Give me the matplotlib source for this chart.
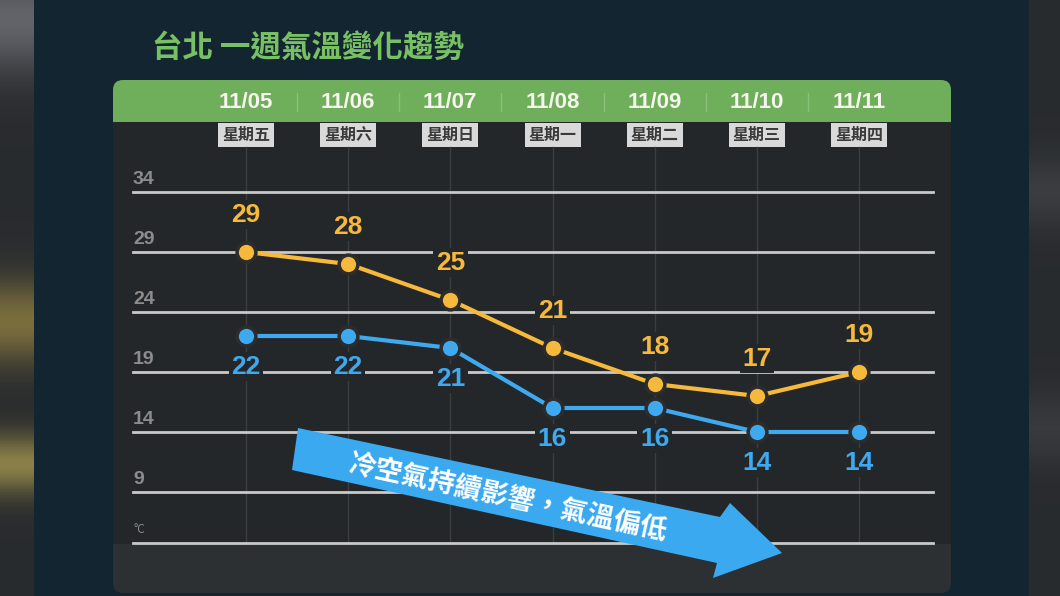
import numpy as np
import matplotlib
matplotlib.use("Agg")
from matplotlib import pyplot as plt
from matplotlib.patches import FancyBboxPatch, Rectangle, Polygon
from matplotlib.transforms import blended_transform_factory

plt.rcParams['font.family'] = ['Noto Sans CJK TC', 'DejaVu Sans']

# data
title = "台北 一週氣溫變化趨勢"
dates = ["11/05", "11/06", "11/07", "11/08", "11/09", "11/10", "11/11"]
weekdays = ["星期五", "星期六", "星期日", "星期一", "星期二", "星期三", "星期四"]
high = [29, 28, 25, 21, 18, 17, 19]
low = [22, 22, 21, 16, 16, 14, 14]
yticks = [34, 29, 24, 19, 14, 9]
note = "冷空氣持續影響，氣溫偏低"

BG = '#142532'
PANEL = '#24272a'
PANEL_LOW = '#2d3033'
GREEN = '#6fae5a'
YELLOW = '#f6b93b'
BLUE = '#3ea9ee'
ARROW = '#3aa9ef'
NUMFONT = ['Liberation Sans', 'DejaVu Sans']

W, H = 1060, 596
fig = plt.figure(figsize=(W / 100, H / 100), dpi=100)
fig.patch.set_facecolor(BG)

# background layer in pixel coordinates
bg = fig.add_axes([0, 0, 1, 1])
bg.axis('off')

# blurred side strips
rows = np.linspace(0, 1, 200)[:, None]
left_col = (np.array([0.16, 0.17, 0.18]) * np.ones((200, 1))
            + np.exp(-((rows - 0.03) / 0.09) ** 2) * np.array([0.22, 0.22, 0.23])
            + np.exp(-((rows - 0.54) / 0.07) ** 2) * np.array([0.32, 0.26, 0.06])
            + np.exp(-((rows - 0.78) / 0.05) ** 2) * np.array([0.38, 0.33, 0.10]))
bg.imshow(np.clip(left_col, 0, 1)[:, None, :], extent=(0, 34, H, 0), aspect='auto', zorder=0)
right_col = (np.array([0.16, 0.17, 0.18]) * np.ones((200, 1))
             + np.exp(-((rows - 0.32) / 0.06) ** 2) * np.array([0.07, 0.07, 0.07])
             + np.exp(-((rows - 0.72) / 0.06) ** 2) * np.array([0.06, 0.06, 0.06]))
bg.imshow(np.clip(right_col, 0, 1)[:, None, :], extent=(1029, W, H, 0), aspect='auto', zorder=0)
bg.set_xlim(0, W)
bg.set_ylim(H, 0)

# panel
bg.add_patch(FancyBboxPatch((113, 80), 838, 513, boxstyle="round,pad=0,rounding_size=10",
                            fc=PANEL_LOW, ec='none', zorder=1))
bg.add_patch(Rectangle((113, 100), 838, 444, fc=PANEL, ec='none', zorder=1))
bg.add_patch(FancyBboxPatch((113, 80), 838, 42, boxstyle="round,pad=0,rounding_size=10",
                            fc=GREEN, ec='none', zorder=2))
bg.add_patch(Rectangle((113, 100), 838, 22, fc=GREEN, ec='none', zorder=2))

bg.text(152, 48, title, color='#78c064', fontsize=22, fontweight='bold',
        ha='left', va='center', zorder=3)

# chart axes
ax_left, ax_right = 133, 933
ax_top, ax_bot = 150, 543
ax = fig.add_axes([ax_left / W, (H - ax_bot) / H, (ax_right - ax_left) / W, (ax_bot - ax_top) / H])
ax.patch.set_alpha(0)
x = np.arange(len(dates))
ax.set_xlim(-1.106, 6.724)
ax.set_ylim(4.75, 37.5)
ax.axis('off')

# horizontal grid
for v in yticks + [4.75]:
    ax.axhline(v, color='#c9c9c9', lw=2, zorder=1, clip_on=False)
for v in yticks:
    ax.text(-1.106, v + 0.3, str(v), color='#8c8c8c', fontsize=14, fontweight='bold',
            family=NUMFONT, ha='left', va='bottom', zorder=2)
ax.text(-1.106, 5.3, "°C", color='#8a8a8a', fontsize=8.5, ha='left', va='bottom', zorder=2)

# vertical guides and header labels
hx = blended_transform_factory(ax.transData, bg.transData)
for i in x:
    ax.plot([i, i], [147, 543], color='#3b3e41', lw=1, transform=hx, clip_on=False, zorder=0)
    bg.text(i, 102, dates[i], transform=hx, color='#f6f6ee', fontsize=16, fontweight='bold',
            family=NUMFONT, ha='center', va='center', zorder=4)
    bg.text(i, 135, weekdays[i], transform=hx, color='#3a3a3a', fontsize=11.5, fontweight='bold',
            ha='center', va='center', zorder=4,
            bbox=dict(boxstyle='square,pad=0.25', fc='#d9d9d9', ec='none'))
for i in x[:-1]:
    bg.plot([i + 0.5, i + 0.5], [93, 111], transform=hx, color='#8bc279', lw=1, zorder=3)

# temperature lines
ax.plot(x, high, color=YELLOW, lw=3, zorder=3, marker='o', ms=13.5, mfc=YELLOW,
        mec='#2c2c2c', mew=2.5, clip_on=False)
ax.plot(x, low, color=BLUE, lw=3, zorder=3, marker='o', ms=13.5, mfc=BLUE,
        mec='#2c2c2c', mew=2.5, clip_on=False)

lbl = dict(fontsize=19, fontweight='bold', family=NUMFONT,
           ha='center', va='center', textcoords='offset points', zorder=4,
           bbox=dict(boxstyle='square,pad=0.1', fc=PANEL, ec='none'))
for xi, v in zip(x, high):
    ax.annotate(str(v), (xi, v), xytext=(0, 27), color=YELLOW, **lbl)
for xi, v in zip(x, low):
    ax.annotate(str(v), (xi, v), xytext=(0, -22), color=BLUE, **lbl)

# arrow overlay
fg = fig.add_axes([0, 0, 1, 1])
fg.set_xlim(0, W)
fg.set_ylim(H, 0)
fg.axis('off')
fg.patch.set_alpha(0)
fg.add_patch(Polygon([(298, 428), (720, 517), (730, 503), (782, 553), (713, 578),
                      (717, 563), (292, 470)], closed=True, fc=ARROW, ec='none'))
fg.text(508, 498, note, color='white', fontsize=19.5, fontweight='bold', rotation=-12.3,
        rotation_mode='anchor', ha='center', va='center')

fig.savefig("out.png", dpi=100, facecolor=BG)
